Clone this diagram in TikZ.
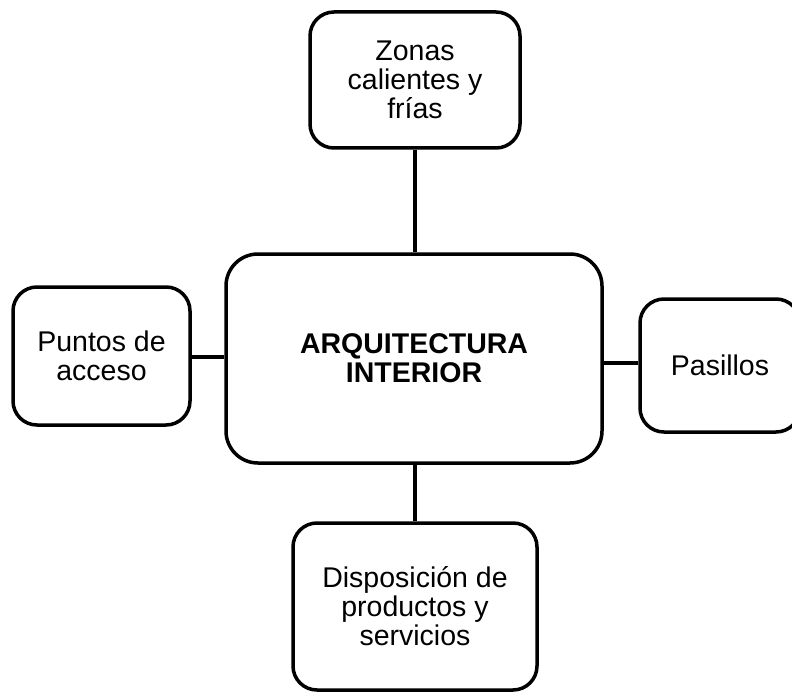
\documentclass[tikz,border=0pt]{standalone}
\usepackage{fontspec}
\setmainfont{Liberation Sans}
\begin{document}
\begin{tikzpicture}[x=1pt,y=-1pt,
  box/.style={draw=black, line width=3.5pt, rounded corners=24pt, fill=white,
    align=center, inner sep=0pt, font=\fontsize{28.5}{29}\selectfont},
  link/.style={draw=black, line width=4pt}]
\useasboundingbox (0,0) rectangle (792,695);
\node[box, minimum width=376pt, minimum height=209pt, rounded corners=32pt,
  font=\fontsize{28.5}{29}\selectfont\bfseries] (mid) at (414,358.5) {ARQUITECTURA\\INTERIOR};
\node[box, minimum width=210pt, minimum height=136pt] (top) at (415,80) {Zonas\\calientes y\\frías};
\node[box, minimum width=177pt, minimum height=138pt] (left) at (101.5,356) {Puntos de\\acceso};
\node[box, minimum width=160pt, minimum height=133pt] (right) at (720,365.5) {Pasillos};
\node[box, minimum width=244pt, minimum height=167pt] (bot) at (415,606.5) {Disposición de\\productos y\\servicios};
\draw[link] (top.south) -- (top.south |- mid.north);
\draw[link] (bot.north) -- (bot.north |- mid.south);
\draw[link] ([yshift=-1pt]left.east) -- ([yshift=-1pt]left.east -| mid.west);
\draw[link] ([yshift=2.5pt]right.west) -- ([yshift=2.5pt]right.west -| mid.east);
\end{tikzpicture}
\end{document}
